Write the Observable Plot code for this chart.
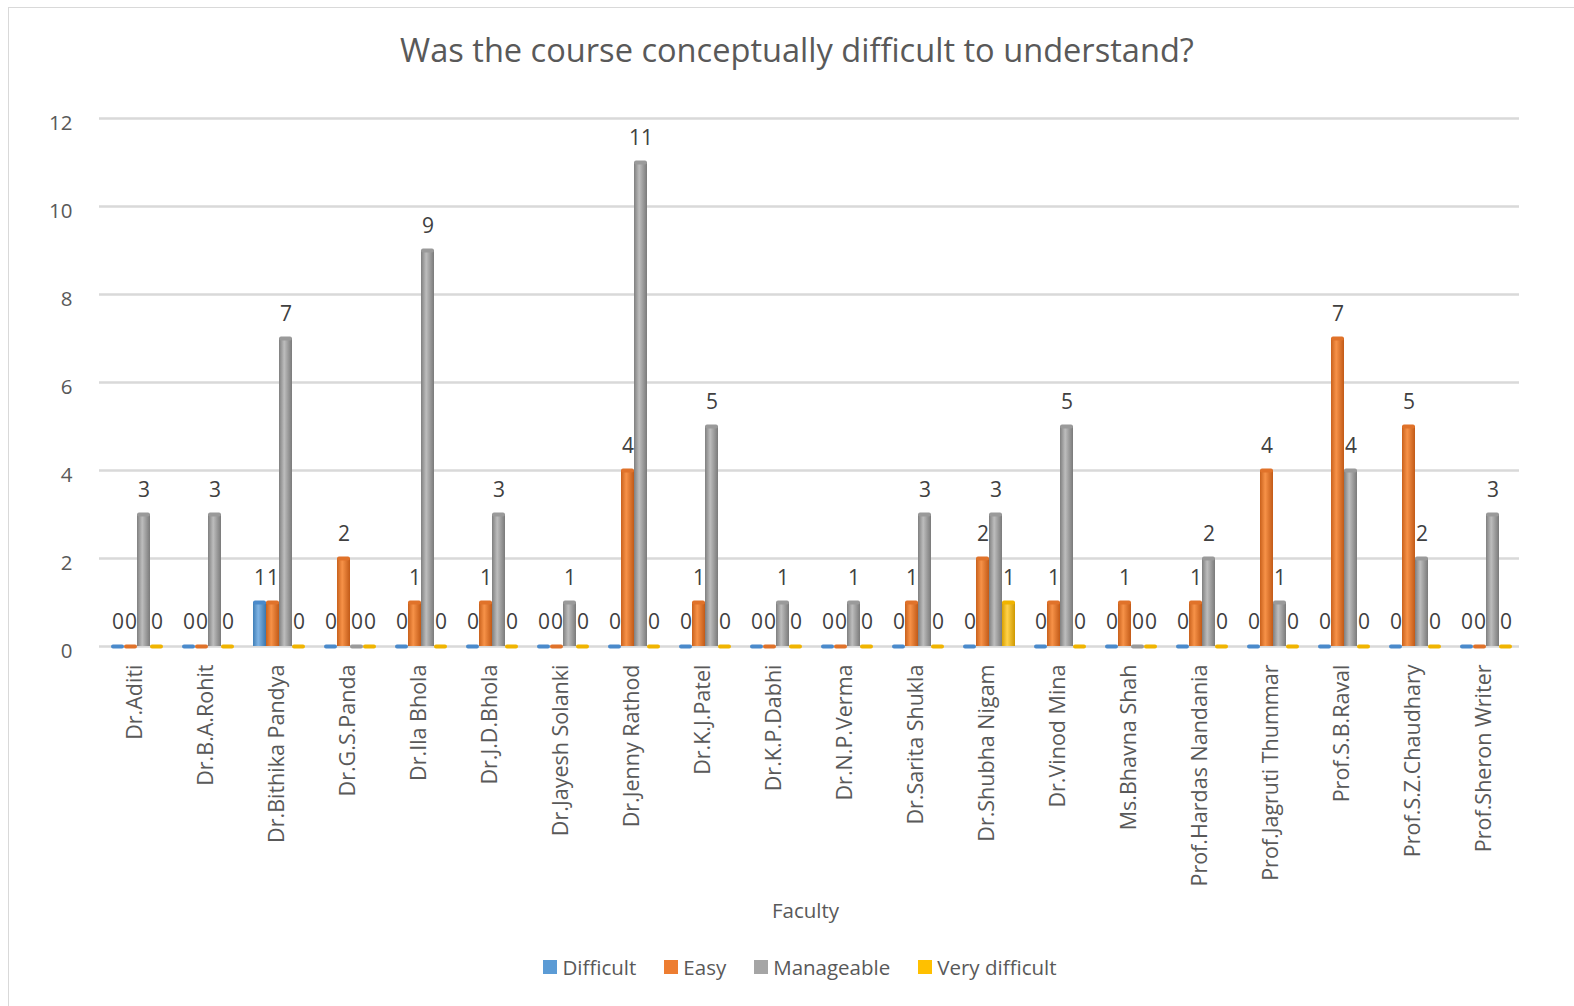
<!DOCTYPE html>
<html>
<head>
<meta charset="utf-8">
<script src="https://cdn.jsdelivr.net/npm/d3@7"></script>
<script src="https://cdn.jsdelivr.net/npm/@observablehq/plot@0.6"></script>
<style>
  html, body { margin: 0; padding: 0; background: #fff; }
  body { position: relative; width: 1574px; height: 1006px; overflow: hidden; font-family: "Open Sans", sans-serif; }
  #frame { position: absolute; left: 8px; top: 7px; width: 1600px; height: 1040px; border: 1.5px solid #d9d9d9; box-sizing: border-box; }
  #title { position: absolute; top: 28px; left: 0; width: 1594px; text-align: center; font-size: 32.6px; line-height: 44px; color: #595959; }
  #chart { position: absolute; top: 90px; left: 0; }
  #xlabel { position: absolute; top: 896px; left: 0; width: 1611px; text-align: center; font-size: 20.5px; line-height: 28px; color: #595959; }
  #legend { position: absolute; top: 953px; left: 0; width: 1600px; display: flex; justify-content: center; gap: 28px; font-size: 20.5px; line-height: 28px; color: #595959; }
  #legend .item { display: flex; align-items: center; gap: 5px; }
  #legend .sw { width: 14px; height: 14px; display: inline-block; }
</style>
</head>
<body>
<svg width="0" height="0" style="position:absolute">
  <defs>
    <linearGradient id="gDifficult" x1="0" x2="1" y1="0" y2="0">
      <stop offset="0" stop-color="#3f7fb8"/><stop offset="0.4" stop-color="#80b4e4"/><stop offset="1" stop-color="#3b77ad"/>
    </linearGradient>
    <linearGradient id="gEasy" x1="0" x2="1" y1="0" y2="0">
      <stop offset="0" stop-color="#c9611c"/><stop offset="0.4" stop-color="#f79248"/><stop offset="1" stop-color="#c25a17"/>
    </linearGradient>
    <linearGradient id="gManageable" x1="0" x2="1" y1="0" y2="0">
      <stop offset="0" stop-color="#7f7f7f"/><stop offset="0.4" stop-color="#bdbdbd"/><stop offset="1" stop-color="#7a7a7a"/>
    </linearGradient>
    <linearGradient id="gVery" x1="0" x2="1" y1="0" y2="0">
      <stop offset="0" stop-color="#d9a000"/><stop offset="0.4" stop-color="#ffd24a"/><stop offset="1" stop-color="#cf9900"/>
    </linearGradient>
  </defs>
</svg>
<div id="frame"></div>
<div id="title">Was the course conceptually difficult to understand?</div>
<div id="chart"></div>
<div id="xlabel">Faculty</div>
<div id="legend"></div>
<script>
const faculty = ["Dr.Aditi", "Dr.B.A.Rohit", "Dr.Bithika Pandya", "Dr.G.S.Panda", "Dr.Ila Bhola", "Dr.J.D.Bhola", "Dr.Jayesh Solanki", "Dr.Jenny Rathod", "Dr.K.J.Patel", "Dr.K.P.Dabhi", "Dr.N.P.Verma", "Dr.Sarita Shukla", "Dr.Shubha Nigam", "Dr.Vinod Mina", "Ms.Bhavna Shah", "Prof.Hardas Nandania", "Prof.Jagruti Thummar", "Prof.S.B.Raval", "Prof.S.Z.Chaudhary", "Prof.Sheron Writer"];
const series = ["Difficult", "Easy", "Manageable", "Very difficult"];
const difficult     = [0, 0, 1, 0, 0, 0, 0, 0, 0, 0, 0, 0, 0, 0, 0, 0, 0, 0, 0, 0];
const easy          = [0, 0, 1, 2, 1, 1, 0, 4, 1, 0, 0, 1, 2, 1, 1, 1, 4, 7, 5, 0];
const manageable    = [3, 3, 7, 0, 9, 3, 1, 11, 5, 1, 1, 3, 3, 5, 0, 2, 1, 4, 2, 3];
const veryDifficult = [0, 0, 0, 0, 0, 0, 0, 0, 0, 0, 0, 0, 1, 0, 0, 0, 0, 0, 0, 0];
const yTicks = [0, 2, 4, 6, 8, 10, 12];

const seriesColors = ["#5B9BD5", "#ED7D31", "#A5A5A5", "#FFC000"];
const capColors = ["#4a8acb", "#e0722a", "#9a9a9a", "#f0b400"];
const gradients = ["url(#gDifficult)", "url(#gEasy)", "url(#gManageable)", "url(#gVery)"];

const values = [difficult, easy, manageable, veryDifficult];
const rows = faculty.flatMap((f, i) => series.map((s, j) => ({faculty: f, series: s, value: values[j][i]})));

const capMarks = series.map((s, j) => Plot.tickY(rows.filter(d => d.series === s), {
  fx: "faculty", x: "series", y: "value", stroke: capColors[j], strokeWidth: 4,
  strokeLinecap: "round", insetLeft: 2, insetRight: 2, dx: 2
}));

const chart = Plot.plot({
  width: 1574,
  height: 806,
  marginLeft: 96,
  marginRight: 52,
  marginTop: 28,
  marginBottom: 250,
  style: {fontFamily: "'Open Sans', sans-serif", fontSize: "20px", color: "#595959", background: "transparent", overflow: "visible"},
  fx: {domain: faculty, padding: 0, label: null},
  x: {domain: series, axis: null, paddingInner: 0, paddingOuter: 0.6},
  y: {domain: [0, 12], label: null},
  color: {domain: series, range: gradients},
  marks: [
    Plot.gridY(yTicks, {stroke: "#d9d9d9", strokeOpacity: 1, strokeWidth: 2.5}),
    Plot.axisY(yTicks, {tickSize: 0, tickPadding: 27, dy: 5, label: null, fontSize: 20.5, fill: "#595959"}),
    Plot.axisFx({anchor: "bottom", tickRotate: -90, tickSize: 0, tickPadding: 18, label: null, fontSize: 21.5, fill: "#595959"}),
    Plot.barY(rows, {fx: "faculty", x: "series", y: "value", fill: "series", dx: 2}),
    ...capMarks,
    Plot.text(rows, {fx: "faculty", x: "series", y: "value", text: d => String(d.value), dy: -24, dx: 2, fill: "#404040", fontSize: 21})
  ]
});
document.getElementById("chart").appendChild(chart);

const legend = document.getElementById("legend");
series.forEach((s, j) => {
  const item = document.createElement("div");
  item.className = "item";
  item.innerHTML = `<span class="sw" style="background:${seriesColors[j]}"></span><span>${s}</span>`;
  legend.appendChild(item);
});
</script>
</body>
</html>
